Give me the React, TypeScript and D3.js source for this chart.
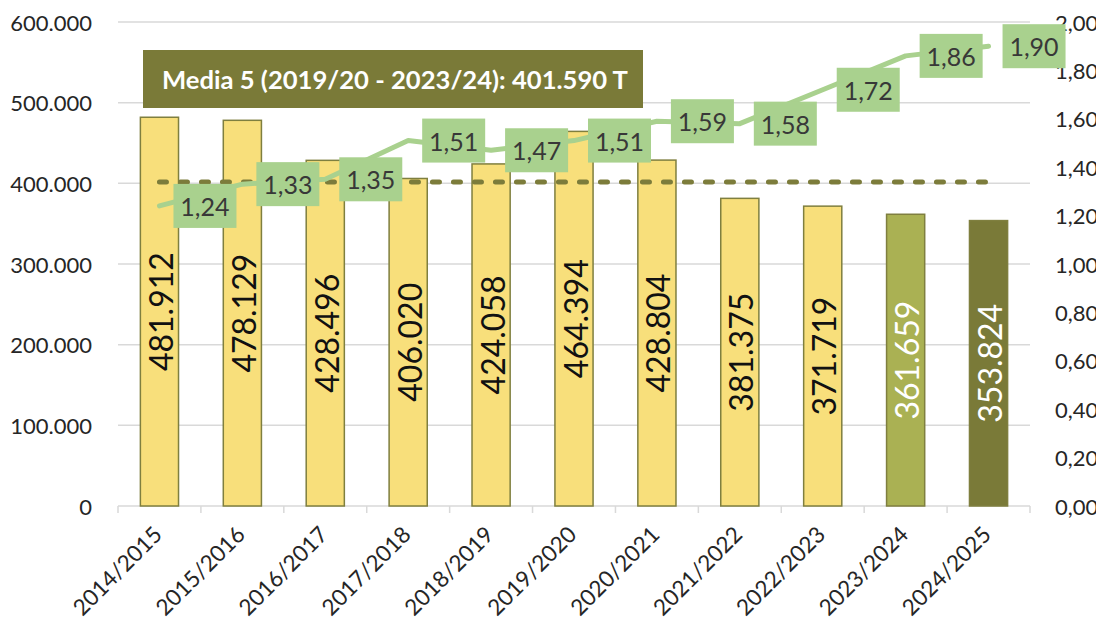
import React from "react";
import * as d3 from "d3";

const categories = ["2014/2015","2015/2016","2016/2017","2017/2018","2018/2019","2019/2020","2020/2021","2021/2022","2022/2023","2023/2024","2024/2025"];
const tonnes = [481912, 478129, 428496, 406020, 424058, 464394, 428804, 381375, 371719, 361659, 353824];
const ratio = [1.24, 1.33, 1.35, 1.51, 1.47, 1.51, 1.59, 1.58, 1.72, 1.86, 1.90];
const barFills = ["#f8df7b","#f8df7b","#f8df7b","#f8df7b","#f8df7b","#f8df7b","#f8df7b","#f8df7b","#f8df7b","#aab153","#7a7a38"];
const labelColors = ["#111","#111","#111","#111","#111","#111","#111","#111","#111","#fff","#fff"];
const leftTicks = [0, 100000, 200000, 300000, 400000, 500000, 600000];
const rightTicks = [0, 0.2, 0.4, 0.6, 0.8, 1.0, 1.2, 1.4, 1.6, 1.8, 2.0];
const average = 401590;
const titleText = "Media 5 (2019/20 - 2023/24): 401.590 T";

const FONT = "Lato, 'Noto Sans', sans-serif";
const fmtThousands = (v: number) => {
  const s = Math.round(v).toString();
  return s.replace(/\B(?=(\d{3})+(?!\d))/g, ".");
};
const fmtDec = (v: number) => v.toFixed(2).replace(".", ",");

export default function App() {
  const W = 1096, H = 619;
  const left = 118, right = 1030, top = 22, bottom = 506;
  const p = 0.54;
  const x = d3.scaleBand<string>().domain(categories).range([left, right]).paddingInner(p).paddingOuter(p / 2);
  const step = x.step();
  const yL = d3.scaleLinear().domain([0, 600000]).range([bottom, top]);
  const yR = d3.scaleLinear().domain([0, 2]).range([bottom, top]);
  const cx = (c: string) => (x(c) as number) + x.bandwidth() / 2;

  const line = d3.line<number>().x((_, i) => cx(categories[i])).y((d) => yR(d)).curve(d3.curveLinear);

  const boundaries = d3.range(categories.length + 1).map((i) => left + i * step);

  return (
    <svg width={W} height={H} style={{ position: "absolute", left: 0, top: 0, background: "#fff" }} fontFamily={FONT}>
      {/* gridlines */}
      {leftTicks.map((t) => (
        <line key={"g" + t} x1={left} x2={right} y1={yL(t)} y2={yL(t)} stroke="#d9d9d9" strokeWidth={1.5} />
      ))}
      {/* ticks on x axis */}
      {boundaries.map((b, i) => (
        <line key={"tk" + i} x1={b} x2={b} y1={bottom} y2={bottom + 7} stroke="#d9d9d9" strokeWidth={1.5} />
      ))}
      {/* left axis labels */}
      {leftTicks.map((t) => (
        <text key={"l" + t} x={92} y={yL(t)} textAnchor="end" dominantBaseline="central" fontSize={22} fill="#262626">
          {fmtThousands(t)}
        </text>
      ))}
      {/* right axis labels */}
      {rightTicks.map((t) => (
        <text key={"r" + t} x={1055} y={yR(t)} textAnchor="start" dominantBaseline="central" fontSize={22} fill="#262626">
          {fmtDec(t)}
        </text>
      ))}
      {/* x labels */}
      {categories.map((c) => (
        <text key={"x" + c} transform={`translate(${cx(c) + 4},${bottom + 30}) rotate(-45)`} textAnchor="end" fontSize={22.5} fill="#262626">
          {c}
        </text>
      ))}
      {/* bars */}
      {categories.map((c, i) => (
        <rect key={"b" + c} x={x(c)} y={yL(tonnes[i])} width={x.bandwidth()} height={bottom - yL(tonnes[i])}
          fill={barFills[i]} stroke="#7f7f3f" strokeWidth={1.5} />
      ))}
      {/* bar value labels */}
      {categories.map((c, i) => {
        const my = (yL(tonnes[i]) + bottom) / 2;
        return (
          <text key={"bl" + c} transform={`translate(${cx(c) + 1},${my}) rotate(-90)`} textAnchor="middle" dominantBaseline="central"
            fontSize={32} fill={labelColors[i]}>
            {fmtThousands(tonnes[i])}
          </text>
        );
      })}
      {/* average dashed line */}
      <line x1={cx(categories[0])} x2={cx(categories[categories.length - 1])} y1={yL(average)} y2={yL(average)}
        stroke="#7c7c3b" strokeWidth={5} strokeDasharray="7 14" strokeLinecap="round" />
      {/* ratio line */}
      <path d={line(ratio) as string} fill="none" stroke="#a9d18e" strokeWidth={5} strokeLinejoin="round" strokeLinecap="round" />
      {/* ratio labels */}
      {categories.map((c, i) => {
        const px = cx(c) + 14;
        const py = yR(ratio[i]);
        return (
          <g key={"rl" + c}>
            <rect x={px} y={py - 22} width={63} height={44} fill="#a9d18e" />
            <text x={px + 31.5} y={py} textAnchor="middle" dominantBaseline="central" fontSize={25} fill="#383838">
              {fmtDec(ratio[i])}
            </text>
          </g>
        );
      })}
      {/* title box */}
      <rect x={143} y={50} width={500} height={58} fill="#7a7a38" />
      <text x={162} y={79} dominantBaseline="central" fontSize={24} fontWeight="bold" fill="#fff" textLength={466} lengthAdjust="spacingAndGlyphs">
        {titleText}
      </text>
    </svg>
  );
}
